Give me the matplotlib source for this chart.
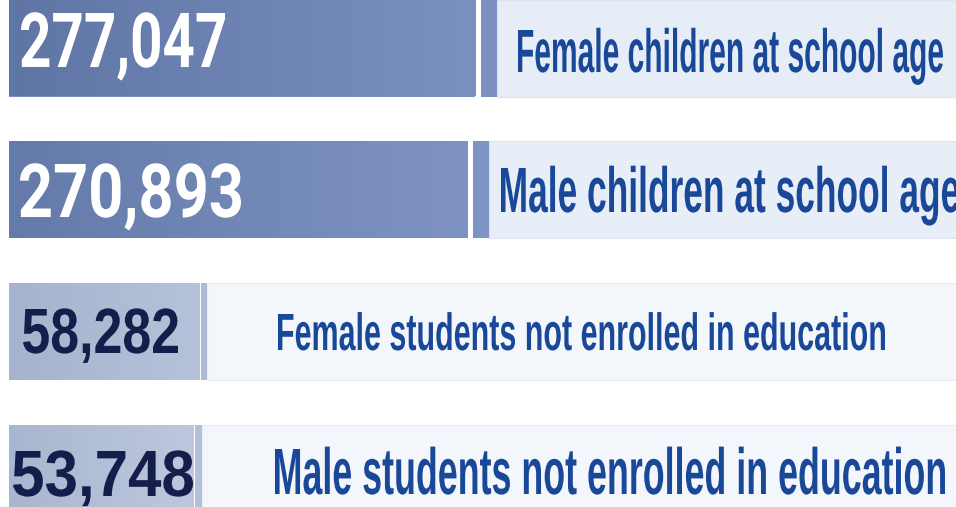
import numpy as np
import matplotlib
matplotlib.use("Agg")
import matplotlib.pyplot as plt
from matplotlib.colors import LinearSegmentedColormap
from matplotlib.patheffects import AbstractPathEffect
from matplotlib.transforms import Affine2D, Bbox
from matplotlib.textpath import TextPath
from matplotlib.font_manager import FontProperties
from matplotlib.patches import Rectangle
from matplotlib.text import Text

# ---------------- data ----------------
categories = ["Female children at school age",
              "Male children at school age",
              "Female students not enrolled in education",
              "Male students not enrolled in education"]
values = [277047, 270893, 58282, 53748]
value_labels = [f"{v:,}" for v in values]

# ---------------- style ----------------
bar_left_colors = ["#5f76a5", "#647ba9", "#a6b3cc", "#a9b6cf"]
bar_right_colors = ["#7a90c1", "#7e93c3", "#b6c2da", "#bdc8de"]
strip_colors = ["#7b90c1", "#7e94c3", "#aebad3", "#b3c0d9"]
panel_colors = ["#e6edf6", "#e7eef7", "#f3f6fb", "#f3f6fb"]
panel_edge = ["#dce3ee", "#dce3ee", "#e8edf5", "#e8edf5"]
gap_px = [6, 6, 1.7, 1.7]
strip_px = [16, 16, 6.5, 6.5]
num_colors = ["white", "white", "#151d4b", "#151d4b"]
num_fonts = [["Roboto", "DejaVu Sans"], ["Roboto", "DejaVu Sans"],
             ["Liberation Sans", "DejaVu Sans"], ["Liberation Sans", "DejaVu Sans"]]
label_color = "#1a4899"
label_font = ["Liberation Sans", "DejaVu Sans"]
# text boxes in pixels: (left, right, cap_top, baseline)
num_boxes = [(21, 225, 13, 67), (20, 241, 164, 217),
             (23, 178, 309, 353), (13, 193, 451, 496)]
label_boxes = [(518, 943, 30, 72), (501, 959, 168, 212),
               (278, 885, 314, 350), (275, 945, 449, 494)]

W, H, DPI = 956, 507, 100
fig = plt.figure(figsize=(W / DPI, H / DPI), dpi=DPI)
fig.patch.set_facecolor("white")
ax = fig.add_axes([0, 0, 1, 1])
ax.set_axis_off()

UNITS_PER_PX = 792.6
ZERO_PX = 125.5
BAR_START_PX = 9
BASE = (ZERO_PX - BAR_START_PX) * UNITS_PER_PX
XLIM = (-ZERO_PX * UNITS_PER_PX, (W - ZERO_PX) * UNITS_PER_PX)
PITCH, FIRST = 141.7, 48.0
YLIM = ((H - FIRST) / PITCH, -FIRST / PITCH)
BAR_H = 97.0 / PITCH

y = np.arange(len(values))
vals = np.array(values, dtype=float)
bars = ax.barh(y, vals + BASE, left=-BASE, height=BAR_H,
               color=strip_colors, linewidth=0, zorder=2)

grad = np.linspace(0, 1, 256)[None, :]
for i, p in enumerate(bars.patches):
    x0, yb = p.get_x(), p.get_y()
    w, h = p.get_width(), p.get_height()
    cmap = LinearSegmentedColormap.from_list(f"g{i}", [bar_left_colors[i], bar_right_colors[i]])
    im = ax.imshow(grad, cmap=cmap, extent=[x0, x0 + w, yb + h, yb],
                   aspect="auto", interpolation="bilinear", zorder=2.5)
    im.set_clip_path(p)
    end = x0 + w
    sx0 = end + gap_px[i] * UNITS_PER_PX
    sw = strip_px[i] * UNITS_PER_PX
    ax.add_patch(Rectangle((sx0, yb), sw, h, facecolor=strip_colors[i],
                           linewidth=0, zorder=2))
    px0 = sx0 + sw
    ax.add_patch(Rectangle((px0, yb), XLIM[1] - px0 + UNITS_PER_PX * 5, h,
                           facecolor=panel_colors[i], edgecolor=panel_edge[i],
                           linewidth=0.8, zorder=1.5))

ax.set_xlim(XLIM)
ax.set_ylim(YLIM)


class SqueezeX(AbstractPathEffect):
    """Horizontally condense the glyphs of a text around its left ink edge."""

    def __init__(self, sx):
        super().__init__((0, 0))
        self.sx = sx

    def draw_path(self, renderer, gc, tpath, affine, rgbFace=None):
        bb = tpath.get_extents(affine)
        x0 = bb.x0
        t = affine + Affine2D().translate(-x0, 0).scale(self.sx, 1).translate(x0, 0)
        renderer.draw_path(gc, tpath, t, rgbFace)


class SqueezedText(Text):
    """A real Text whose reported extent matches its condensed rendering."""
    _sx = 1.0

    def get_window_extent(self, renderer=None, dpi=None):
        bb = super().get_window_extent(renderer, dpi)
        return Bbox.from_extents(bb.x0, bb.y0, bb.x0 + bb.width * self._sx, bb.y1)


def fitted_text(s, box, family, color):
    left, right, top, base = box
    fp = FontProperties(family=family, weight="bold")
    cap = TextPath((0, 0), "H", size=1, prop=fp).get_extents().height
    fs_px = (base - top) / cap
    ink = TextPath((0, 0), s, size=fs_px, prop=fp).get_extents()
    sx = (right - left) / ink.width
    t = fig.text((left - ink.x0) / W, 1 - base / H, s, fontproperties=fp,
                 fontsize=fs_px * 72 / DPI, color=color, ha="left", va="baseline",
                 path_effects=[SqueezeX(sx)], zorder=5)
    t.__class__ = SqueezedText
    t._sx = sx
    return t


for i in range(len(values)):
    fitted_text(value_labels[i], num_boxes[i], num_fonts[i], num_colors[i])
    fitted_text(categories[i], label_boxes[i], label_font, label_color)

fig.savefig("out.png", dpi=DPI, facecolor="white")
